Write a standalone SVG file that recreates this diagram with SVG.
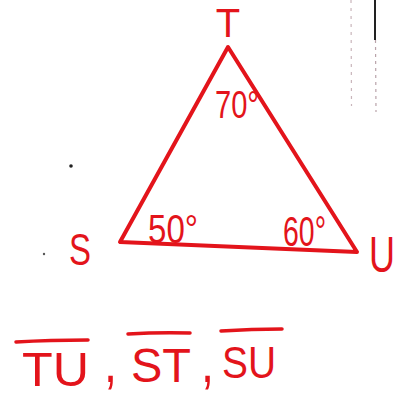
<svg xmlns="http://www.w3.org/2000/svg" width="406" height="398" viewBox="0 0 406 398">
<style>
.ink{fill:none;stroke:#e3141b;stroke-width:4;stroke-linecap:round;stroke-linejoin:round}
.bar{fill:none;stroke:#e3141b;stroke-width:3.5;stroke-linecap:round}
.lbl{font-family:"Liberation Sans","DejaVu Sans",sans-serif;fill:#e3141b;font-weight:normal}
</style>
<rect width="406" height="398" fill="#ffffff"/>
<g id="artifacts">
<line x1="375" y1="0" x2="375" y2="40" stroke="#222" stroke-width="2"/>
<line x1="375.5" y1="40" x2="376" y2="112" stroke="#b9a3aa" stroke-width="1.2" stroke-dasharray="3 4"/>
<line x1="351" y1="0" x2="351.5" y2="106" stroke="#c9b5bb" stroke-width="1.2" stroke-dasharray="3 5"/>
<circle cx="71" cy="166" r="1.8" fill="#222"/>
<circle cx="44" cy="254" r="1.2" fill="#555"/>
</g>
<g id="triangle">
<path class="ink" d="M228,47 L120,242 L357,252 Z"/>
</g>
<g id="vertex-T"><text class="lbl" x="228" y="37" font-size="40" text-anchor="middle">T</text></g>
<g id="vertex-S"><text class="lbl" x="80" y="265" font-size="44" text-anchor="middle" textLength="22" lengthAdjust="spacingAndGlyphs">S</text></g>
<g id="vertex-U"><text class="lbl" x="382" y="272" font-size="50" text-anchor="middle" textLength="26" lengthAdjust="spacingAndGlyphs">U</text></g>
<g id="angle-T"><text class="lbl" x="215" y="118" font-size="38" textLength="44" lengthAdjust="spacingAndGlyphs">70°</text></g>
<g id="angle-S"><text class="lbl" x="148" y="243" font-size="40" textLength="50" lengthAdjust="spacingAndGlyphs">50°</text></g>
<g id="angle-U"><text class="lbl" x="283" y="246" font-size="42" textLength="43" lengthAdjust="spacingAndGlyphs">60°</text></g>
<g id="segments">
<path class="bar" d="M16,342 Q50,340 88,340"/>
<text class="lbl" x="22" y="386" font-size="48" textLength="67" lengthAdjust="spacingAndGlyphs">TU</text>
<text class="lbl" x="104" y="382" font-size="60" textLength="13" lengthAdjust="spacingAndGlyphs">,</text>
<path class="bar" d="M128,334 Q160,332 190,333"/>
<text class="lbl" x="131" y="382" font-size="48" textLength="60" lengthAdjust="spacingAndGlyphs">ST</text>
<text class="lbl" x="201" y="382" font-size="60" textLength="13" lengthAdjust="spacingAndGlyphs">,</text>
<path class="bar" d="M221,331 Q252,329 282,329"/>
<text class="lbl" x="222" y="378" font-size="44" textLength="54" lengthAdjust="spacingAndGlyphs">SU</text>
</g>
</svg>
